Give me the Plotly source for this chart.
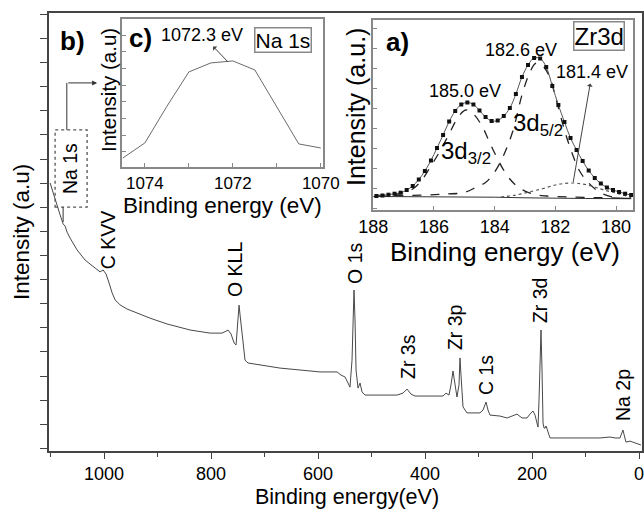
import plotly.graph_objects as go

# ---------------- data ----------------
# (b) survey spectrum: binding energy (eV) and intensity (a.u.)
survey_be = [1100.9, 1091.6, 1082.2, 1076.6, 1072.9, 1069.2, 1063.5, 1050.5, 1035.5, 1016.8,
             1007.5, 1001.9, 996.3, 990.7, 985.0, 979.4, 970.1, 957.0, 942.1, 914.0,
             882.3, 839.3, 801.9, 779.5, 772.0, 768.3, 762.6, 757.0, 753.3, 749.6,
             747.7, 745.8, 742.1, 736.5, 730.9, 708.4, 671.1, 633.7, 596.3, 572.0,
             564.5, 557.1, 549.6, 544.0, 540.3, 536.5, 534.6, 532.8, 530.9, 529.0,
             525.3, 521.5, 517.8, 512.2, 484.2, 452.4, 441.2, 433.7, 426.2, 418.7,
             390.7, 366.4, 360.8, 355.2, 351.5, 349.6, 347.7, 345.8, 342.1, 340.3,
             336.5, 334.7, 332.8, 330.9, 329.0, 321.6, 306.6, 297.3, 291.6, 286.0,
             282.3, 278.6, 259.9, 246.8, 237.4, 228.1, 218.7, 209.4, 203.8, 198.2,
             194.4, 190.7, 188.8, 186.9, 185.0, 183.2, 181.3, 179.4, 177.5, 175.6,
             173.8, 170.0, 166.3, 128.9, 72.9, 54.3, 44.9, 35.6, 31.9, 30.0,
             28.1, 24.4, 16.9, 5.7, -3.6]
survey_int = [11.01, 10.30, 9.68, 9.31, 9.22, 8.97, 8.72, 8.23, 7.81, 7.48,
              7.32, 7.40, 7.23, 6.86, 6.45, 6.16, 5.95, 5.78, 5.65, 5.40,
              5.16, 4.91, 4.78, 4.78, 4.86, 4.91, 4.74, 4.37, 4.29, 5.32,
              5.94, 5.53, 4.70, 3.66, 3.54, 3.46, 3.33, 3.25, 3.17, 3.17,
              3.17, 3.04, 2.96, 2.71, 2.54, 3.66, 5.33, 6.57, 5.33, 3.25,
              2.50, 2.71, 2.34, 2.21, 2.21, 2.21, 2.29, 2.46, 2.25, 2.17,
              2.17, 2.17, 2.29, 2.21, 2.63, 3.05, 3.21, 2.92, 2.29, 2.13,
              2.63, 3.75, 3.04, 2.21, 1.72, 1.47, 1.47, 1.47, 1.59, 1.92,
              1.59, 1.38, 1.34, 1.26, 1.34, 1.42, 1.26, 1.26, 1.42, 1.55,
              1.38, 0.97, 0.88, 2.00, 3.67, 4.91, 3.25, 1.05, 0.84, 0.84,
              0.93, 0.68, 0.43, 0.43, 0.43, 0.47, 0.43, 0.43, 0.63, 0.76,
              0.59, 0.26, 0.30, 0.22, 0.14]
survey_labels = ["C KVV", "O KLL", "O 1s", "Zr 3s", "Zr 3p", "C 1s", "Zr 3d", "Na 2p"]
survey_label_be = [992.5, 755.2, 530.9, 431.8, 344.0, 286.0, 185.1, 30.0]
survey_label_int = [8.64, 7.40, 7.65, 3.79, 5.03, 3.04, 6.15, 2.21]

# (c) Na 1s
na_be = [1074.5, 1074.0, 1073.5, 1073.0, 1072.5, 1072.0, 1071.5, 1071.0, 1070.5, 1070.0]
na_int = [-0.36, 0.54, 2.73, 4.79, 5.33, 5.45, 4.91, 2.69, 0.48, 0.24]

# (a) Zr 3d
zr_be = [187.9, 187.7, 187.5, 187.3, 187.1, 186.9, 186.7, 186.5, 186.3, 186.1,
         185.9, 185.7, 185.5, 185.3, 185.1, 184.9, 184.7, 184.5, 184.3, 184.1,
         183.9, 183.7, 183.5, 183.3, 183.1, 182.9, 182.7, 182.5, 182.3, 182.1,
         181.9, 181.7, 181.5, 181.3, 181.1, 180.9, 180.7, 180.5, 180.3, 180.1,
         179.9, 179.7, 179.5]
zr_int = [14, 14.5, 15.3, 16.3, 17.3, 20, 24, 30.5, 39, 49.5,
          62, 75, 88.5, 99, 105.5, 107.5, 105.5, 99.5, 93, 89,
          89.5, 94, 102, 116, 133, 145, 152, 151.5, 143, 124,
          105, 88, 72, 60, 49, 39.5, 32, 26.5, 22.5, 20,
          18, 16.3, 15]
d32_be = [187.9, 187.5, 187.1, 186.7, 186.4, 186.1, 185.8, 185.5, 185.2, 184.95,
          184.7, 184.4, 184.2, 184.0, 183.6, 183.25, 182.8, 182.3, 181.5, 180.5, 179.5]
d32_int = [14.5, 15, 16.5, 21, 30, 44, 59, 76, 93, 100,
           96, 83, 70, 57, 35, 23.5, 16.5, 14, 13, 12.3, 11.8]
d52_be = [187.9, 187.0, 186.2, 185.6, 185.0, 184.6, 184.3, 184.0, 183.7, 183.4,
          183.1, 182.85, 182.65, 182.45, 182.2, 181.95, 181.7, 181.45, 181.2, 180.9,
          180.55, 180.1, 179.5]
d52_int = [14, 14.5, 15, 16, 17.5, 23, 27.5, 38, 55, 79,
           115, 137, 146.7, 145, 134, 108, 80, 57, 39, 27,
           18, 13, 11.5]
d14_be = [183.8, 183.3, 182.8, 182.4, 182.0, 181.7, 181.4, 181.1, 180.75, 180.4, 180.0, 179.5]
d14_int = [13, 15, 18.5, 21.5, 25, 26.5, 27, 26, 23.5, 20, 17, 12.5]
bg_be = [188.0, 186.5, 185.0, 184.0, 183.0, 182.0, 181.0, 179.5]
bg_int = [13.5, 13.4, 13.1, 12.8, 12.2, 11.7, 11.5, 11.3]

# ---------------- figure ----------------
W, H = 644, 510
FONT = "Arial, 'Liberation Sans', sans-serif"


def fx(px):
    return px / W


def fy(py):
    return 1 - py / H


fig = go.Figure()

fig.add_trace(go.Scatter(x=survey_be, y=survey_int, mode="lines",
                         line=dict(color="#484848", width=1), xaxis="x", yaxis="y",
                         showlegend=False))
fig.add_trace(go.Scatter(x=na_be, y=na_int, mode="lines",
                         line=dict(color="#6a6a6a", width=1), xaxis="x2", yaxis="y2",
                         showlegend=False))
fig.add_trace(go.Scatter(x=bg_be, y=bg_int, mode="lines",
                         line=dict(color="#333", width=1), xaxis="x3", yaxis="y3",
                         showlegend=False))
fig.add_trace(go.Scatter(x=d32_be, y=d32_int, mode="lines", line_shape="spline",
                         line=dict(color="#222", width=1.3, dash="dash"),
                         xaxis="x3", yaxis="y3", showlegend=False))
fig.add_trace(go.Scatter(x=d52_be, y=d52_int, mode="lines", line_shape="spline",
                         line=dict(color="#222", width=1.3, dash="dash"),
                         xaxis="x3", yaxis="y3", showlegend=False))
fig.add_trace(go.Scatter(x=d14_be, y=d14_int, mode="lines", line_shape="spline",
                         line=dict(color="#555", width=1.2, dash="dot"),
                         xaxis="x3", yaxis="y3", showlegend=False))
fig.add_trace(go.Scatter(x=zr_be, y=zr_int, mode="lines+markers", line_shape="spline",
                         line=dict(color="#555", width=1),
                         marker=dict(symbol="square", size=4, color="#111"),
                         xaxis="x3", yaxis="y3", showlegend=False))

axcommon = dict(showgrid=False, zeroline=False, showline=True, mirror=True, automargin=False)

fig.update_layout(
    template="none",
    width=W, height=H, margin=dict(l=0, r=0, t=0, b=0, autoexpand=False),
    paper_bgcolor="white", plot_bgcolor="rgba(0,0,0,0)",
    font=dict(family=FONT, color="black"),
    xaxis=dict(domain=[fx(49), fx(642)], range=[1103, -5.6], anchor="y",
               linecolor="#444", linewidth=1.5, ticks="outside", ticklen=6, tickwidth=1.2,
               tickcolor="#444", tick0=0, dtick=200, tickfont=dict(size=18),
               ticklabeloverflow="allow",
               minor=dict(ticks="outside", ticklen=4, dtick=100, tickcolor="#444"),
               **axcommon),
    yaxis=dict(domain=[fy(451), fy(13)], range=[-0.11, 18.06], anchor="x",
               linecolor="#444", linewidth=1.5, ticks="outside", ticklen=7, tickwidth=1.2,
               tickcolor="#444", tick0=0, dtick=1, showticklabels=False, **axcommon),
    xaxis2=dict(domain=[fx(122), fx(323)], range=[1074.52, 1069.95], anchor="y2",
                linecolor="#888", linewidth=1.5, ticks="inside", ticklen=4, tickcolor="#888",
                tick0=1070, dtick=2, tickfont=dict(size=17), ticklabeloverflow="allow",
                minor=dict(ticks="inside", ticklen=4, dtick=1, tickcolor="#888"),
                **axcommon),
    yaxis2=dict(domain=[fy(167), fy(19)], range=[-0.9, 7.96], anchor="x2",
                linecolor="#888", linewidth=1.5, ticks="inside", ticklen=4, tickcolor="#888",
                tick0=0, dtick=1, showticklabels=False, **axcommon),
    xaxis3=dict(domain=[fx(373), fx(633)], range=[188.01, 179.44], anchor="y3",
                linecolor="#888", linewidth=1.5, ticks="inside", ticklen=4, tickcolor="#888",
                tick0=180, dtick=2, tickfont=dict(size=18), ticklabeloverflow="allow",
                **axcommon),
    yaxis3=dict(domain=[fy(210), fy(20)], range=[0, 190], anchor="x3",
                linecolor="#888", linewidth=1.5, ticks="inside", ticklen=4, tickcolor="#888",
                tick0=2, dtick=20, showticklabels=False, **axcommon),
)

C = dict(xanchor="center", yanchor="middle", showarrow=False)

ann = []
# survey peak labels
for t, xv, yv in zip(survey_labels, survey_label_be, survey_label_int):
    ann.append(dict(x=xv, y=yv, xref="x", yref="y", text=t, textangle=-90,
                    font=dict(size=19.5), **C))
# Na 1s label in dotted box + arrow
ann.append(dict(x=1063.5, y=11.59, xref="x", yref="y", text="Na 1s", textangle=-90,
                font=dict(size=19.5), **C))
ann.append(dict(x=1013, y=15.16, xref="x", yref="y", ax=1069.7, ay=15.16, axref="x", ayref="y",
                text="", showarrow=True, arrowhead=2, arrowsize=1, arrowwidth=1,
                arrowcolor="#333"))
fig.add_shape(type="rect", xref="x", yref="y", x0=1091.6, x1=1031.8, y0=10.01, y1=13.21,
              line=dict(color="#555", width=1.3, dash="dot"))
fig.add_shape(type="line", xref="x", yref="y", x0=1069.7, x1=1069.7, y0=13.21, y1=15.16,
              line=dict(color="#333", width=1))
fig.add_shape(type="line", xref="x", yref="y", x0=1076.6, x1=1076.6, y0=10.01, y1=9.39,
              line=dict(color="#333", width=1))

# panel letters
ann.append(dict(x=fx(72), y=fy(41), xref="paper", yref="paper", text="<b>b)</b>",
                font=dict(size=26), **C))
ann.append(dict(x=fx(140), y=fy(38), xref="paper", yref="paper", text="<b>c)</b>",
                font=dict(size=26), **C))
ann.append(dict(x=fx(397), y=fy(42), xref="paper", yref="paper", text="<b>a)</b>",
                font=dict(size=26), **C))

# inset c annotations (arrow from the curve to the label)
ann.append(dict(x=1072.11, y=5.39, xref="x2", yref="y2", text="1072.3 eV",
                ax=-26, ay=-27, axref="pixel", ayref="pixel",
                showarrow=True, arrowside="start", arrowhead=2, arrowsize=1,
                arrowwidth=1, arrowcolor="#444", font=dict(size=18)))
ann.append(dict(x=fx(283), y=fy(40), xref="paper", yref="paper", text="Na 1s",
                font=dict(size=21), bordercolor="#888", borderwidth=1.5,
                borderpad=0, bgcolor="white", **C))

# inset a annotations
ann.append(dict(x=fx(598.5), y=fy(36), xref="paper", yref="paper", text="Zr3d",
                font=dict(size=24), bordercolor="#888", borderwidth=1.5,
                borderpad=0, bgcolor="white", **C))
ann.append(dict(x=fx(521), y=fy(50), xref="paper", yref="paper", text="182.6 eV",
                font=dict(size=18), **C))
ann.append(dict(x=181.41, y=28, xref="x3", yref="y3", text="181.4 eV",
                ax=19, ay=-110, axref="pixel", ayref="pixel",
                showarrow=True, arrowside="start", arrowhead=2, arrowsize=1,
                arrowwidth=1, arrowcolor="#444", font=dict(size=18)))
ann.append(dict(x=fx(465), y=fy(91), xref="paper", yref="paper", text="185.0 eV",
                font=dict(size=18), **C))
ann.append(dict(x=fx(466), y=fy(152), xref="paper", yref="paper",
                text="3d<sub>3/2</sub>", font=dict(size=24), **C))
ann.append(dict(x=fx(538), y=fy(124), xref="paper", yref="paper",
                text="3d<sub>5/2</sub>", font=dict(size=24), **C))

# axis titles
ann.append(dict(x=fx(347), y=fy(497), xref="paper", yref="paper", text="Binding energy(eV)",
                font=dict(size=21.5), **C))
ann.append(dict(x=fx(22), y=fy(232), xref="paper", yref="paper", text="Intensity (a.u)",
                textangle=-90, font=dict(size=22.5), **C))
ann.append(dict(x=fx(222), y=fy(205), xref="paper", yref="paper", text="Binding energy (eV)",
                font=dict(size=22.5), **C))
ann.append(dict(x=fx(108), y=fy(90), xref="paper", yref="paper", text="Intensity (a.u)",
                textangle=-90, font=dict(size=20.5), **C))
ann.append(dict(x=fx(505), y=fy(252), xref="paper", yref="paper", text="Binding energy (eV)",
                font=dict(size=26), **C))
ann.append(dict(x=fx(356), y=fy(107), xref="paper", yref="paper", text="Intensity (a.u.)",
                textangle=-90, font=dict(size=25), **C))

fig.update_layout(annotations=ann)

fig.write_html("out.html", config={"displayModeBar": False},
               post_script="document.body.style.margin='0px';")
